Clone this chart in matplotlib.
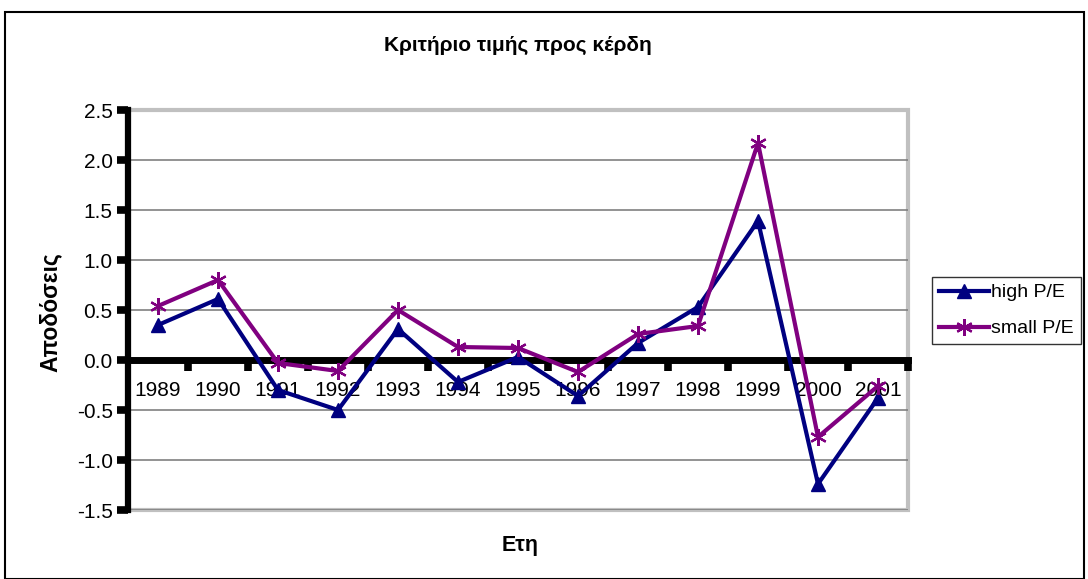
import matplotlib
matplotlib.use("Agg")
import matplotlib.pyplot as plt
from matplotlib.patches import Rectangle
from matplotlib.ticker import FormatStrFormatter, FixedLocator

plt.rcParams['font.family'] = ['Liberation Sans', 'DejaVu Sans']
plt.rcParams['axes.unicode_minus'] = False

years = ['1989', '1990', '1991', '1992', '1993', '1994', '1995', '1996',
         '1997', '1998', '1999', '2000', '2001']
high_pe = [0.35, 0.61, -0.30, -0.50, 0.31, -0.22, 0.03, -0.36, 0.17, 0.53, 1.39, -1.24, -0.38]
small_pe = [0.54, 0.80, -0.03, -0.11, 0.50, 0.13, 0.12, -0.12, 0.26, 0.34, 2.17, -0.77, -0.26]
yticks = [-1.5, -1.0, -0.5, 0.0, 0.5, 1.0, 1.5, 2.0, 2.5]

title = 'Κριτήριο τιμής προς κέρδη'
xlabel = 'Ετη'
ylabel = 'Αποδόσεις'

W, H = 1088, 579
fig = plt.figure(figsize=(W / 100, H / 100), dpi=100)
ax = fig.add_axes([128 / W, 1 - 510 / H, 780 / W, 400 / H])

x = list(range(len(years)))
ax.set_xlim(-0.5, len(years) - 0.5)
ax.set_ylim(-1.5, 2.5)

for v in yticks:
    if v not in (0, 2.5):
        ax.axhline(v, color='#808080', lw=1.2, zorder=1)

ax.plot(x, high_pe, color='#000080', lw=3, marker='^', ms=10, label='high P/E', zorder=4)
ax.plot(x, small_pe, color='#800080', lw=3, marker=(6, 2, 0), ms=12, mew=1.6,
        label='small P/E', zorder=5)

# spines
for s in ['top', 'right']:
    ax.spines[s].set_visible(False)
ax.spines['left'].set_linewidth(4.5)
ax.spines['left'].set_color('black')
ax.spines['left'].set_zorder(3)
ax.spines['bottom'].set_position(('data', 0))
ax.spines['bottom'].set_linewidth(5)
ax.spines['bottom'].set_zorder(3)
ax.add_patch(Rectangle((0, 0), 1, 1, transform=ax.transAxes, fill=False,
                       ec='#c0c0c0', lw=3, zorder=0, clip_on=False))

ax.set_yticks(yticks)
ax.yaxis.set_major_formatter(FormatStrFormatter('%.1f'))
ax.tick_params(axis='y', length=8, width=5.5, direction='out', labelsize=15, pad=3)

ax.set_xticks(x)
ax.set_xticklabels(years)
ax.xaxis.set_minor_locator(FixedLocator([i + 0.5 for i in x]))
ax.tick_params(axis='x', which='major', length=0, labelsize=15, pad=15)
ax.tick_params(axis='x', which='minor', length=8, width=5.5, direction='out')

fig.text(0.5 * (128 + 908) / W, 1 - 45 / H, title, ha='center', va='center',
         fontsize=15, fontweight='bold')
fig.text(520 / W, 1 - 546 / H, xlabel, ha='center', va='center',
         fontsize=15.5, fontweight='bold')
fig.text(50 / W, 1 - 312 / H, ylabel, ha='center', va='center', rotation=90,
         fontsize=16.5, fontweight='bold')

leg = ax.legend(loc='upper left', bbox_to_anchor=(932 / W, 1 - 277 / H),
                bbox_transform=fig.transFigure, frameon=True, fancybox=False,
                edgecolor='black', fontsize=14, handlelength=2.6, handletextpad=0.1,
                borderpad=0.35, labelspacing=0.95, borderaxespad=0)
leg.get_frame().set_linewidth(1)

fig.patches.append(Rectangle((5 / W, 0), 1079 / W, 1 - 12 / H, transform=fig.transFigure,
                             fill=False, ec='black', lw=1.5))

fig.savefig('out.png', dpi=100)
